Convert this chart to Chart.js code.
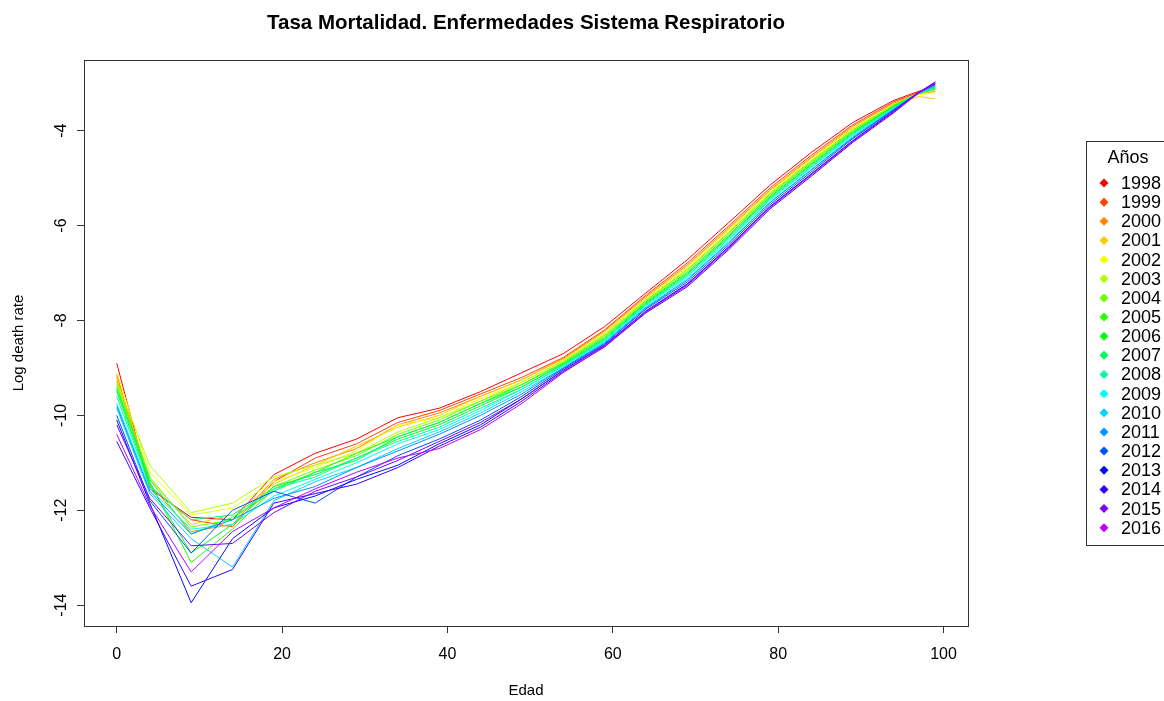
<!DOCTYPE html>
<html>
<head>
<meta charset="utf-8">
<script src="https://cdn.jsdelivr.net/npm/chart.js@4.4.1/dist/chart.umd.min.js"></script>
<style>
  html, body { margin: 0; padding: 0; background: #fff; overflow: hidden; }
  #wrap { width: 1164px; height: 701px; position: relative; }
</style>
</head>
<body>
<div id="wrap"><canvas id="chart" width="1164" height="701"></canvas></div>
<script>
//Ages (knots of the 5 year groups, plus 97 near the end)
const ages = [0, 4, 9, 14, 19, 24, 29, 34, 39, 44, 49, 54, 59, 64, 69, 74, 79, 84, 89, 94, 97, 99];
const years = ["1998", "1999", "2000", "2001", "2002", "2003", "2004", "2005", "2006", "2007",
  "2008", "2009", "2010", "2011", "2012", "2013", "2014", "2015", "2016"];
const xTicks = [0, 20, 40, 60, 80, 100];
const yTicks = [-14, -12, -10, -8, -6, -4];

//Log death rate per year
const r1998 = [-8.9, -11.55, -12.15, -12.2, -11.25, -10.8, -10.5, -10.05, -9.85, -9.5, -9.1, -8.7, -8.13, -7.42, -6.72, -5.94, -5.15, -4.46, -3.83, -3.36, -3.17, -3.08];
const r1999 = [-9.15, -11.5, -12.2, -12.35, -11.4, -10.9, -10.6, -10.15, -9.9, -9.55, -9.2, -8.78, -8.2, -7.47, -6.79, -6.01, -5.21, -4.52, -3.88, -3.39, -3.19, -3.12];
const r2000 = [-9.25, -11.45, -12.45, -12.3, -11.35, -11.0, -10.7, -10.2, -9.95, -9.6, -9.25, -8.8, -8.22, -7.50, -6.83, -6.05, -5.25, -4.56, -3.91, -3.42, -3.22, -3.17];
const r2001 = [-9.2, -11.35, -12.3, -12.1, -11.45, -11.05, -10.65, -10.25, -10.0, -9.6, -9.25, -8.82, -8.25, -7.53, -6.86, -6.08, -5.27, -4.58, -3.94, -3.46, -3.28, -3.33];
const r2002 = [-9.1, -11.2, -12.1, -11.95, -11.4, -11.1, -10.75, -10.2, -10.05, -9.65, -9.3, -8.85, -8.28, -7.55, -6.89, -6.11, -5.30, -4.61, -3.96, -3.44, -3.24, -3.2];
const r2003 = [-9.3, -11.05, -12.05, -11.85, -11.3, -11.05, -10.8, -10.35, -10.05, -9.7, -9.3, -8.85, -8.3, -7.57, -6.92, -6.14, -5.32, -4.63, -3.98, -3.45, -3.22, -3.15];
const r2004 = [-9.35, -11.3, -12.35, -12.2, -11.5, -11.15, -10.85, -10.4, -10.1, -9.7, -9.35, -8.88, -8.32, -7.58, -6.94, -6.16, -5.34, -4.65, -3.99, -3.46, -3.21, -3.1];
const r2005 = [-9.4, -11.4, -13.1, -12.4, -11.55, -11.2, -10.8, -10.45, -10.15, -9.75, -9.35, -8.9, -8.35, -7.61, -6.98, -6.20, -5.37, -4.68, -4.02, -3.48, -3.22, -3.12];
const r2006 = [-9.5, -11.45, -12.9, -12.3, -11.5, -11.25, -10.9, -10.5, -10.2, -9.8, -9.4, -8.92, -8.38, -7.63, -7.01, -6.23, -5.40, -4.71, -4.04, -3.49, -3.21, -3.1];
const r2007 = [-9.45, -11.35, -12.5, -12.15, -11.6, -11.2, -10.95, -10.45, -10.15, -9.75, -9.4, -8.93, -8.4, -7.65, -7.03, -6.25, -5.42, -4.73, -4.06, -3.50, -3.2, -3.08];
const r2008 = [-9.6, -11.5, -12.2, -12.1, -11.55, -11.3, -10.9, -10.55, -10.25, -9.85, -9.45, -8.95, -8.42, -7.67, -7.06, -6.28, -5.45, -4.76, -4.08, -3.52, -3.21, -3.1];
const r2009 = [-9.75, -11.55, -12.4, -12.3, -11.7, -11.35, -11.0, -10.6, -10.3, -9.9, -9.45, -8.97, -8.44, -7.69, -7.09, -6.31, -5.47, -4.78, -4.10, -3.53, -3.2, -3.05];
const r2010 = [-9.85, -11.65, -12.6, -13.2, -11.8, -11.4, -11.1, -10.7, -10.35, -9.95, -9.5, -9.0, -8.46, -7.72, -7.13, -6.35, -5.51, -4.82, -4.13, -3.54, -3.2, -3.06];
const r2011 = [-9.8, -11.6, -12.5, -12.2, -11.75, -11.5, -11.1, -10.75, -10.4, -10.0, -9.55, -9.0, -8.48, -7.74, -7.15, -6.37, -5.52, -4.83, -4.15, -3.55, -3.2, -3.04];
const r2012 = [-10.0, -11.8, -12.9, -12.0, -11.6, -11.85, -11.3, -10.85, -10.5, -10.1, -9.6, -9.02, -8.5, -7.76, -7.19, -6.41, -5.56, -4.87, -4.17, -3.56, -3.19, -3.02];
const r2013 = [-10.1, -11.85, -13.95, -12.6, -11.95, -11.7, -11.35, -11.05, -10.6, -10.2, -9.65, -9.05, -8.53, -7.80, -7.23, -6.45, -5.60, -4.91, -4.21, -3.58, -3.19, -3.0];
const r2014 = [-10.55, -11.95, -13.6, -13.25, -11.85, -11.65, -11.45, -11.1, -10.65, -10.25, -9.7, -9.08, -8.56, -7.84, -7.29, -6.51, -5.65, -4.96, -4.25, -3.62, -3.2, -2.97];
const r2015 = [-10.2, -11.75, -12.75, -12.7, -12.05, -11.6, -11.3, -10.95, -10.55, -10.15, -9.65, -9.05, -8.52, -7.81, -7.24, -6.46, -5.61, -4.92, -4.22, -3.59, -3.19, -2.99];
const r2016 = [-10.4, -11.9, -13.3, -12.45, -11.95, -11.55, -11.2, -10.9, -10.7, -10.3, -9.75, -9.1, -8.55, -7.82, -7.26, -6.48, -5.62, -4.93, -4.23, -3.60, -3.21, -3.02];

const rates = [r1998, r1999, r2000, r2001, r2002, r2003, r2004, r2005, r2006, r2007,
  r2008, r2009, r2010, r2011, r2012, r2013, r2014, r2015, r2016];

//rainbow colours, red to violet
const lineColors = years.map((_, i) => `hsl(${(i * 15.8).toFixed(1)}, 100%, 50%)`);

const FONT = "'Liberation Sans', Arial, sans-serif";

//Title, box, rotated y labels and legend in R style
const rStyle = {
  id: "rStyle",
  afterDraw(chart) {
    const ctx = chart.ctx;
    const a = chart.chartArea;
    const ys = chart.scales.y;
    ctx.save();
    //box round the plot
    ctx.strokeStyle = "#333";
    ctx.lineWidth = 1;
    ctx.strokeRect(Math.round(a.left) + 0.5, Math.round(a.top) + 0.5,
      Math.round(a.right - a.left), Math.round(a.bottom - a.top));
    //title
    ctx.fillStyle = "#000";
    ctx.font = `bold 20.5px ${FONT}`;
    ctx.textAlign = "center";
    ctx.textBaseline = "middle";
    ctx.fillText("Tasa Mortalidad. Enfermedades Sistema Respiratorio", (a.left + a.right) / 2, 23);
    //y tick labels, rotated
    ctx.font = `16px ${FONT}`;
    for (const v of yTicks) {
      const py = ys.getPixelForValue(v);
      ctx.save();
      ctx.translate(62, py);
      ctx.rotate(-Math.PI / 2);
      ctx.fillText(String(v), 0, 0);
      ctx.restore();
    }
    //legend
    const lx = 1086, ly = 141, lh = 19.15;
    ctx.strokeRect(lx + 0.5, ly + 0.5, 120, 404);
    ctx.font = `18px ${FONT}`;
    ctx.fillText("Años", 1128, 158);
    ctx.textAlign = "left";
    chart.data.datasets.forEach((ds, i) => {
      const cy = 183 + i * lh;
      ctx.fillStyle = ds.borderColor;
      ctx.beginPath();
      ctx.moveTo(1104, cy - 4.5);
      ctx.lineTo(1108.5, cy);
      ctx.lineTo(1104, cy + 4.5);
      ctx.lineTo(1099.5, cy);
      ctx.closePath();
      ctx.fill();
      ctx.fillStyle = "#000";
      ctx.fillText(ds.label, 1121, cy + 1);
    });
    ctx.restore();
  },
};

new Chart(document.getElementById("chart"), {
  type: "line",
  plugins: [rStyle],
  data: {
    datasets: years.map((y, i) => ({
      label: y,
      data: ages.map((age, j) => ({ x: age, y: rates[i][j] })),
      borderColor: lineColors[i],
      backgroundColor: lineColors[i],
      borderWidth: 1,
      pointRadius: 0,
      tension: 0,
      fill: false,
      //later years drawn on top, as in R
      order: years.length - i,
    })),
  },
  options: {
    responsive: false,
    animation: false,
    devicePixelRatio: 1,
    layout: { padding: { top: 60, right: 196, left: 0, bottom: 0 } },
    plugins: {
      legend: { display: false },
      tooltip: { enabled: false },
      title: { display: false },
    },
    scales: {
      x: {
        type: "linear",
        min: -3.96,
        max: 102.96,
        afterBuildTicks: (s) => { s.ticks = xTicks.map((v) => ({ value: v })); },
        afterFit: (s) => { s.height = 75; },
        grid: { display: true, drawOnChartArea: false, drawTicks: true, tickLength: 7, color: "#333" },
        border: { display: false },
        ticks: { color: "#000", font: { family: FONT, size: 16 }, padding: 12, maxRotation: 0 },
        title: { display: true, text: "Edad", color: "#000", font: { family: FONT, size: 15 }, padding: { top: 0, bottom: 1 } },
      },
      y: {
        type: "linear",
        min: -14.44,
        max: -2.51,
        afterBuildTicks: (s) => { s.ticks = yTicks.map((v) => ({ value: v })); },
        afterFit: (s) => { s.width = 84; },
        grid: { display: true, drawOnChartArea: false, drawTicks: true, tickLength: 7, color: "#333" },
        border: { display: false },
        ticks: { display: false },
        title: { display: true, text: "Log death rate", color: "#000", font: { family: FONT, size: 15 }, padding: { top: 10, bottom: 0 } },
      },
    },
  },
});
</script>
</body>
</html>
